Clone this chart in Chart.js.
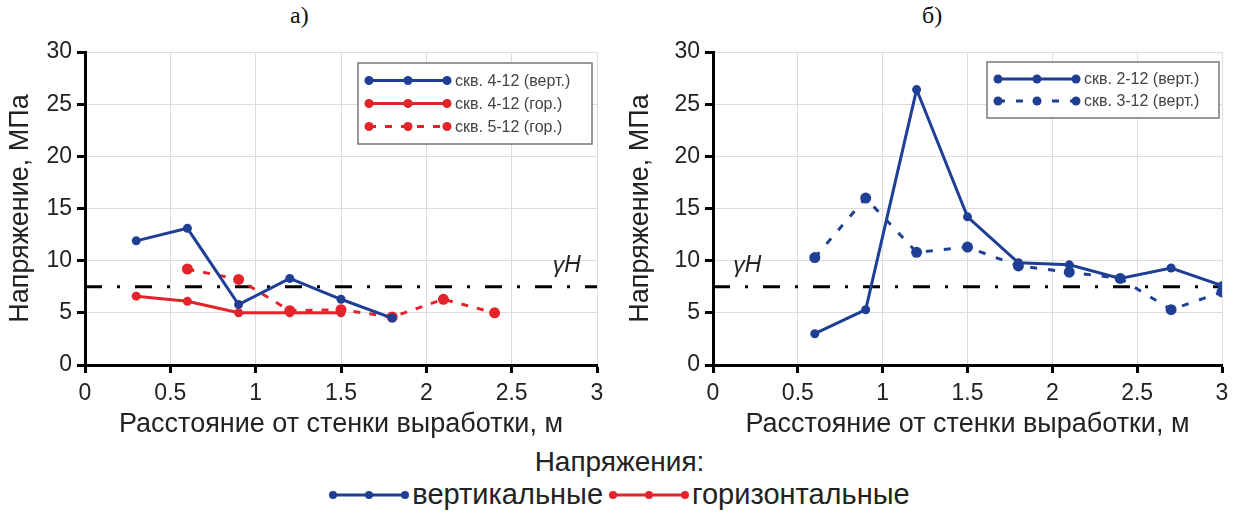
<!DOCTYPE html>
<html lang="ru">
<head>
  <meta charset="UTF-8">
  <title>Напряжения</title>
  <script src="https://cdn.jsdelivr.net/npm/chart.js"></script>
  <style>
    body {
      margin: 0;
      background: #fff;
      width: 1239px;
      height: 516px;
      position: relative;
      overflow: hidden;
      font-family: "Liberation Sans", Arial, sans-serif;
    }
    .panel { position: absolute; top: 0; height: 445px; }
    #panelA { left: 0; width: 615px; }
    #panelB { left: 620px; width: 619px; }
    .label {
      position: absolute;
      top: 2px;
      font-family: "Liberation Serif", serif;
      font-size: 24px;
      color: #111;
    }
    #bottomLegend {
      position: absolute;
      left: 0;
      width: 1239px;
      top: 446px;
      text-align: center;
      color: #222;
      font-size: 28px;
    }
    #bottomLegend .row { display: flex; justify-content: center; align-items: center; margin-top: 0px; font-size: 29px; }
    #bottomLegend svg { margin: 0 3px 0 0; }
  </style>
</head>
<body>
  <div class="label" style="left:290px">а)</div>
  <div class="label" style="left:922px">б)</div>
  <div class="panel" id="panelA"><canvas id="chartA"></canvas></div>
  <div class="panel" id="panelB"><canvas id="chartB"></canvas></div>
  <div id="bottomLegend">
    <div>Напряжения:</div>
    <div class="row">
      <svg width="80" height="14"><line x1="4" y1="7" x2="76" y2="7" stroke="#1f3f95" stroke-width="3"/><circle cx="4" cy="7" r="4" fill="#1f3f95"/><circle cx="40" cy="7" r="4" fill="#1f3f95"/><circle cx="76" cy="7" r="4" fill="#1f3f95"/></svg>
      <span>вертикальные</span>
      <svg width="80" height="14" style="margin-left:6px"><line x1="4" y1="7" x2="76" y2="7" stroke="#e5232b" stroke-width="3"/><circle cx="4" cy="7" r="4" fill="#e5232b"/><circle cx="40" cy="7" r="4" fill="#e5232b"/><circle cx="76" cy="7" r="4" fill="#e5232b"/></svg>
      <span>горизонтальные</span>
    </div>
  </div>

  <script>
    // данные графика а)
    const distVert412 = [0.3, 0.6, 0.9, 1.2, 1.5, 1.8];
    const skv412Vert = [11.9, 13.1, 5.8, 8.3, 6.3, 4.5];
    const distHor412 = [0.3, 0.6, 0.9, 1.2, 1.5];
    const skv412Hor = [6.6, 6.1, 5.0, 5.0, 5.0];
    const distHor512 = [0.6, 0.9, 1.2, 1.5, 1.8, 2.1, 2.4];
    const skv512Hor = [9.2, 8.2, 5.2, 5.3, 4.6, 6.3, 5.0];

    // данные графика б)
    const distB = [0.6, 0.9, 1.2, 1.5, 1.8, 2.1, 2.4, 2.7, 3.0];
    const skv212Vert = [3.0, 5.3, 26.4, 14.2, 9.8, 9.6, 8.3, 9.3, 7.6];
    const skv312Vert = [10.3, 16.0, 10.8, 11.3, 9.5, 8.9, 8.3, 5.3, 7.0];

    // γH
    const gammaH = 7.5;
    const xMin = 0, xMax = 3, xStep = 0.5;
    const yMin = 0, yMax = 30, yStep = 5;

    const BLUE = '#1f3f95';
    const RED = '#e5232b';
    const FONT = '"Liberation Sans", Arial, sans-serif';

    const pts = (xs, ys) => xs.map((x, i) => ({ x: x, y: ys[i] }));

    function series(label, xs, ys, color, drawOrder, dash) {
      return {
        label: label,
        data: pts(xs, ys),
        borderColor: color,
        backgroundColor: color,
        borderWidth: 3,
        borderDash: dash || [],
        pointRadius: dash ? 5.5 : 4.5,
        pointBorderWidth: 0,
        pointBackgroundColor: color,
        showLine: true,
        inLegend: true,
        order: drawOrder
      };
    }

    function gammaLine() {
      return {
        label: 'γH',
        data: [{ x: xMin, y: gammaH }, { x: xMax, y: gammaH }],
        borderColor: '#000',
        borderWidth: 3,
        borderDash: [17, 15, 3, 15],
        pointRadius: 0,
        showLine: true,
        inLegend: false,
        order: 10
      };
    }

    // легенда в рамке внутри поля графика
    const boxLegend = {
      id: 'boxLegend',
      afterDraw(chart, args, opts) {
        const ctx = chart.ctx;
        const sets = chart.data.datasets.filter(d => d.inLegend);
        const h = opts.rowH * sets.length + opts.padY * 2;
        ctx.save();
        ctx.fillStyle = '#fff';
        ctx.fillRect(opts.x, opts.y, opts.w, h);
        ctx.strokeStyle = '#777';
        ctx.lineWidth = 1.5;
        ctx.strokeRect(opts.x, opts.y, opts.w, h);
        ctx.font = '16px ' + FONT;
        ctx.textBaseline = 'middle';
        sets.forEach((d, i) => {
          const cy = opts.y + opts.padY + opts.rowH * (i + 0.5);
          const x0 = opts.x + 11, x1 = x0 + 78;
          ctx.strokeStyle = d.borderColor;
          ctx.lineWidth = 3;
          ctx.setLineDash(d.borderDash);
          ctx.beginPath();
          ctx.moveTo(x0, cy);
          ctx.lineTo(x1, cy);
          ctx.stroke();
          ctx.setLineDash([]);
          ctx.fillStyle = d.borderColor;
          [x0, (x0 + x1) / 2, x1].forEach(px => {
            ctx.beginPath();
            ctx.arc(px, cy, 4.5, 0, Math.PI * 2);
            ctx.fill();
          });
          ctx.fillStyle = '#444';
          ctx.fillText(d.label, x1 + 8, cy + 1);
        });
        ctx.restore();
      }
    };

    // подпись γH
    const gammaLabel = {
      id: 'gammaLabel',
      afterDatasetsDraw(chart, args, opts) {
        const ctx = chart.ctx;
        const px = chart.scales.x.getPixelForValue(opts.x);
        const py = chart.scales.y.getPixelForValue(gammaH);
        ctx.save();
        ctx.font = 'italic 23px ' + FONT;
        ctx.fillStyle = '#222';
        ctx.textAlign = 'left';
        ctx.textBaseline = 'alphabetic';
        ctx.fillText('γH', px, py - 15);
        ctx.restore();
      }
    };

    function makeOptions(yAxisWidth, padRight, legendOpts, gammaX) {
      return {
        responsive: true,
        maintainAspectRatio: false,
        animation: false,
        layout: { padding: { top: 52, right: padRight, left: 0, bottom: 0 } },
        plugins: {
          legend: { display: false },
          tooltip: { enabled: false },
          boxLegend: legendOpts,
          gammaLabel: { x: gammaX }
        },
        scales: {
          x: {
            type: 'linear',
            min: xMin,
            max: xMax,
            ticks: {
              stepSize: xStep, color: '#222', font: { size: 23, family: FONT }, padding: 7, maxRotation: 0,
              callback: v => String(v)
            },
            grid: { color: '#dcdcdc', lineWidth: 1, tickColor: '#000', tickWidth: 3, tickLength: 8 },
            border: { color: '#000', width: 3 },
            title: { display: true, text: 'Расстояние от стенки выработки, м', color: '#222', font: { size: 27, family: FONT }, padding: { top: 0 } },
            afterFit(scale) { scale.height = 80; }
          },
          y: {
            min: yMin,
            max: yMax,
            ticks: { stepSize: yStep, color: '#222', font: { size: 23, family: FONT }, padding: 5 },
            grid: { color: '#dcdcdc', lineWidth: 1, tickColor: '#000', tickWidth: 3, tickLength: 8 },
            border: { color: '#000', width: 3 },
            title: { display: true, text: 'Напряжение, МПа', color: '#222', font: { size: 27, family: FONT }, padding: { top: 4, bottom: 0 } },
            afterFit(scale) { scale.width = yAxisWidth; }
          }
        }
      };
    }

    new Chart(document.getElementById('chartA'), {
      type: 'scatter',
      data: {
        datasets: [
          series('скв. 4-12 (верт.)', distVert412, skv412Vert, BLUE, 1),
          series('скв. 4-12 (гор.)', distHor412, skv412Hor, RED, 2),
          series('скв. 5-12 (гор.)', distHor512, skv512Hor, RED, 3, [7, 9]),
          gammaLine()
        ]
      },
      options: makeOptions(85, 18, { x: 358, y: 63, w: 234, rowH: 23, padY: 6 }, 2.74),
      plugins: [boxLegend, gammaLabel]
    });

    new Chart(document.getElementById('chartB'), {
      type: 'scatter',
      data: {
        datasets: [
          series('скв. 2-12 (верт.)', distB, skv212Vert, BLUE, 1),
          series('скв. 3-12 (верт.)', distB, skv312Vert, BLUE, 2, [7, 11]),
          gammaLine()
        ]
      },
      options: makeOptions(93, 17, { x: 367, y: 62, w: 232, rowH: 22, padY: 6 }, 0.12),
      plugins: [boxLegend, gammaLabel]
    });
  </script>
</body>
</html>
